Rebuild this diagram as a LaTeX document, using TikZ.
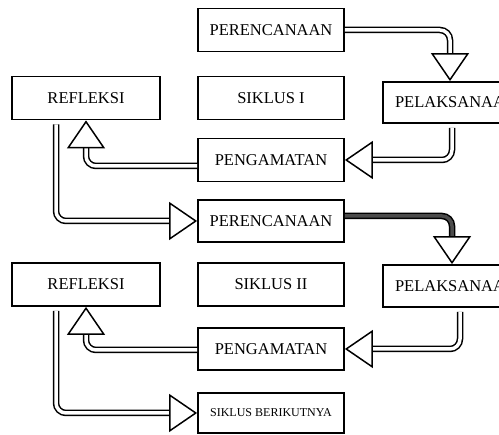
\documentclass[tikz,border=0pt]{standalone}
\usepackage{fontspec}
\setmainfont{Liberation Serif}
\usetikzlibrary{arrows.meta,calc}
\tikzset{
	box/.style={draw, line width=1.8pt, minimum width=146pt, minimum height=43pt, inner sep=0pt, font=\fontsize{16.5}{19}\selectfont},
	flow/.style={draw, double, double distance=3.5pt, line width=1.5pt, rounded corners=10pt, -{Triangle[open, length=28pt, width=38pt, line width=1.5pt]}},
}
\begin{document}
\begin{tikzpicture}[x=1pt,y=-1pt]
	\useasboundingbox (0,0) rectangle (499,435);
	\node[box] (per1) at (271,30) {PERENCANAAN};
	\node[box] (sik1) at (271,98) {SIKLUS I};
	\node[box, minimum width=148pt] (ref1) at (86,98) {REFLEKSI};
	\node[box, minimum height=41pt] (pel1) at (456,102.5) {PELAKSANAAN};
	\node[box] (pen1) at (271,160) {PENGAMATAN};
	\node[box, minimum height=42pt] (per2) at (271,221) {PERENCANAAN};
	\node[box] (sik2) at (271,284.5) {SIKLUS II};
	\node[box, minimum width=148pt] (ref2) at (86,284.5) {REFLEKSI};
	\node[box, minimum height=42pt] (pel2) at (456,286) {PELAKSANAAN};
	\node[box, minimum height=42pt] (pen2) at (271,349) {PENGAMATAN};
	\node[box, minimum height=40pt, font=\fontsize{12}{14}\selectfont] (next) at (271,413) {SIKLUS BERIKUTNYA};
	% siklus I
	\draw[flow] (per1.east) -| ($(pel1.north)+(-6,0)$);
	\draw[flow] ($(pel1.south)+(-4,4)$) |- (pen1.east);
	\draw[flow] ($(pen1.west)+(0,6)$) -| (ref1.south);
	\draw[flow] ($(ref1.south)+(-30,4)$) |- (per2.west);
	% siklus II
	\draw[flow, double=black!70] ($(per2.east)+(0,-5)$) -| ($(pel2.north)+(-4,0)$);
	\draw[flow] ($(pel2.south)+(4,4)$) |- (pen2.east);
	\draw[flow] ($(pen2.west)+(0,1)$) -| (ref2.south);
	\draw[flow] ($(ref2.south)+(-30,4)$) |- (next.west);
\end{tikzpicture}
\end{document}
